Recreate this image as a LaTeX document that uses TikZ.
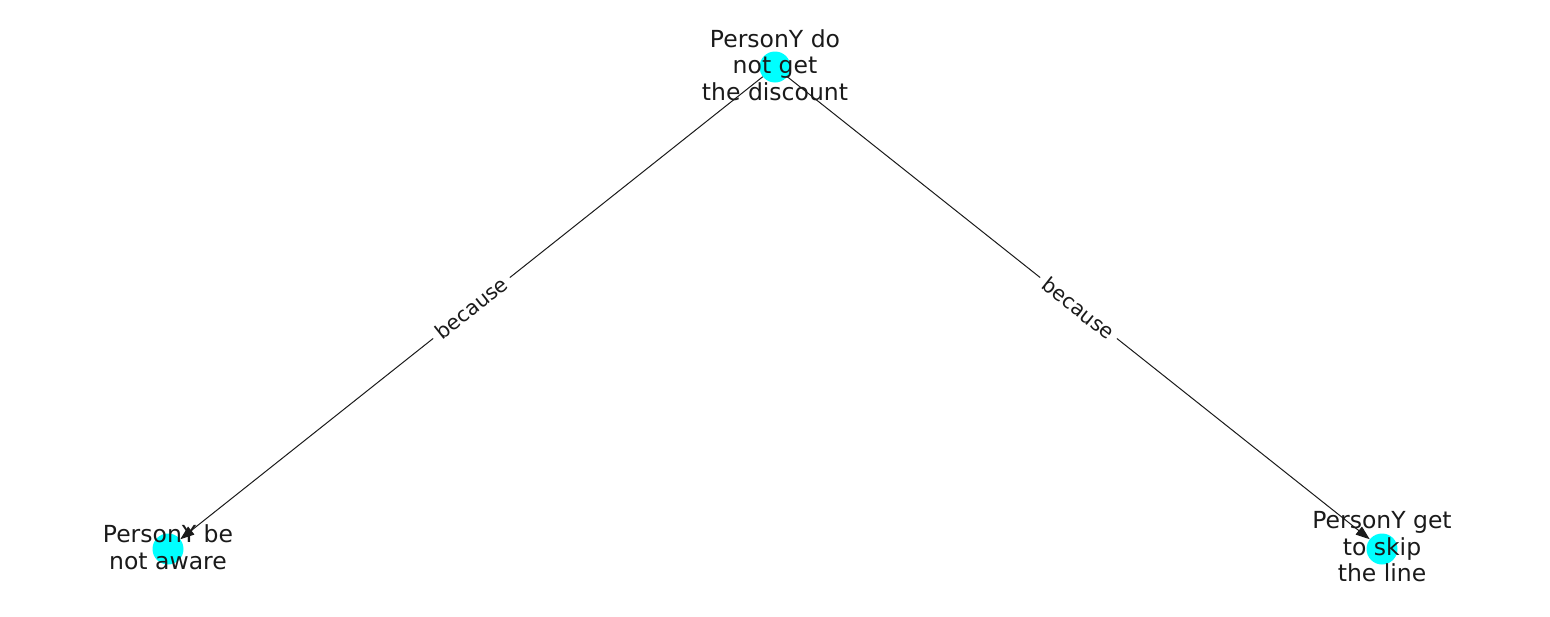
\documentclass[tikz,border=0pt]{standalone}
\usepackage{fontspec}
\setmainfont{DejaVu Sans}
\usetikzlibrary{arrows.meta}
\definecolor{nodecyan}{HTML}{00FFFF}
\definecolor{ink}{HTML}{1A1A1A}
\tikzset{
  dot/.style={circle, fill=nodecyan, draw=none, minimum size=31pt, inner sep=0pt},
  lbl/.style={align=center, inner sep=0pt, text=ink, font=\fontsize{23.5}{26.5}\selectfont},
  edge/.style={draw=ink, line width=1pt, -{Triangle[length=14pt,width=10pt]}},
  elbl/.style={sloped, midway, fill=white, inner xsep=6pt, inner ysep=4pt, text=ink, font=\fontsize{20.5}{24}\selectfont}
}
\begin{document}
\begin{tikzpicture}[x=1pt,y=-1pt]
\useasboundingbox (0,0) rectangle (1550,616);
\node[dot] (top) at (775,67) {};
\node[dot] (bl) at (168,549) {};
\node[dot] (br) at (1382,549) {};
\draw[edge] (top) -- node[elbl] {because} (bl);
\draw[edge] (top) -- node[elbl] {because} (br);
\node[lbl] (ttop) at (775,65) {PersonY do\\not get\\the discount};
\node[lbl] (tbl) at (168,547) {PersonY be\\not aware};
\node[lbl] (tbr) at (1382,547) {PersonY get\\to skip\\the line};
\end{tikzpicture}
\end{document}
